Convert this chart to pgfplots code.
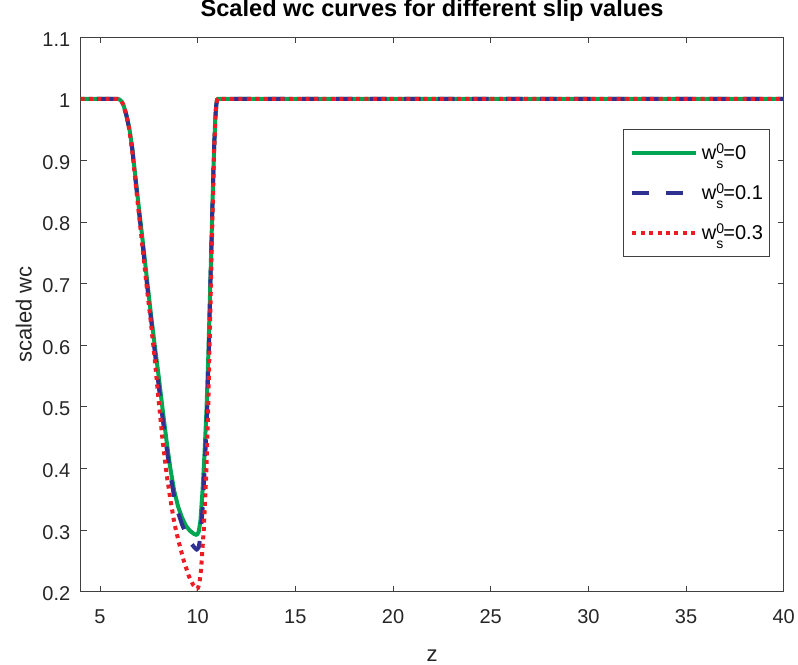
\documentclass[border=0pt]{standalone}
\usepackage{fontspec}
\setmainfont{Liberation Sans}
\usepackage{pgfplots}
\pgfplotsset{compat=1.18}
\definecolor{cgreen}{RGB}{0,166,81}
\definecolor{cblue}{RGB}{46,49,146}
\definecolor{cred}{RGB}{237,28,36}
\definecolor{axtext}{RGB}{38,38,38}
\newcommand\wsz[1]{w\rlap{\raisebox{3.3pt}{\fontsize{7}{7}\selectfont 0}}\raisebox{-4.5pt}{\fontsize{7}{7}\selectfont s}=#1}

\pgfplotstableread{
z v
4 1
5.9 1
6.0 0.999
6.1 0.996
6.2 0.99
6.35 0.974
6.5 0.952
6.65 0.92
6.8 0.877
7.0 0.82
7.2 0.765
7.4 0.708
7.6 0.652
7.8 0.600
8.0 0.550
8.2 0.497
8.4 0.446
8.6 0.400
8.8 0.363
9.0 0.338
9.2 0.320
9.4 0.307
9.6 0.299
9.8 0.294
9.95 0.292
10.05 0.297
10.14 0.315
10.25 0.365
10.35 0.425
10.45 0.495
10.55 0.59
10.65 0.705
10.75 0.822
10.83 0.912
10.9 0.968
10.95 0.99
11.0 1
40 1
}\green

\pgfplotstableread{
z v
4 1
5.9 1
6.0 0.999
6.1 0.996
6.2 0.99
6.35 0.973
6.5 0.951
6.65 0.918
6.8 0.873
7.0 0.815
7.2 0.758
7.4 0.70
7.6 0.645
7.8 0.59
8.0 0.535
8.2 0.482
8.4 0.435
8.6 0.39
8.8 0.353
9.0 0.328
9.2 0.309
9.4 0.294
9.6 0.281
9.8 0.273
9.95 0.268
10.05 0.272
10.14 0.289
10.27 0.343
10.39 0.424
10.48 0.49
10.56 0.58
10.65 0.70
10.75 0.82
10.83 0.912
10.9 0.968
10.95 0.99
11.0 1
40 1
}\blue

\pgfplotstableread{
z v
4 1
5.9 1
6.0 0.999
6.1 0.996
6.2 0.99
6.35 0.973
6.5 0.95
6.65 0.915
6.8 0.87
7.0 0.81
7.2 0.752
7.4 0.692
7.6 0.638
7.8 0.578
8.0 0.51
8.2 0.447
8.4 0.393
8.6 0.35
8.8 0.312
9.02 0.282
9.28 0.251
9.54 0.226
9.75 0.212
9.9 0.206
10.0 0.205
10.08 0.212
10.17 0.235
10.31 0.30
10.45 0.40
10.55 0.515
10.65 0.66
10.75 0.80
10.83 0.905
10.9 0.965
10.95 0.99
11.0 1
40 1
}\red

\begin{document}
\begin{tikzpicture}
\begin{axis}[
  scale only axis, width=351.6pt, height=277.2pt,
  xmin=4, xmax=40, ymin=0.2, ymax=1.1,
  xtick={5,10,15,20,25,30,35,40},
  ytick={0.2,0.3,0.4,0.5,0.6,0.7,0.8,0.9,1,1.1},
  tick align=inside, major tick length=3pt,
  axis line style={black!75, line width=0.5pt},
  every tick/.style={black!75, line width=0.5pt},
  /pgf/number format/assume math mode=true,
  ticklabel style={font=\fontsize{10}{12}\selectfont, text=axtext},
  yticklabel style={/pgf/number format/.cd, fixed, precision=1, /tikz/.cd, anchor=east, inner sep=0pt, xshift=-4.9pt, yshift=-1pt},
  xticklabel style={anchor=base, inner sep=0pt, yshift=-15.8pt},
  title={Scaled wc curves for different slip values},
  title style={font=\bfseries\fontsize{11.8}{14}\selectfont, at={(axis description cs:0.5,1)}, anchor=base, yshift=4.5pt, inner sep=0pt, text=black},
  xlabel={z},
  xlabel style={font=\fontsize{11}{13}\selectfont, at={(axis description cs:0.5,0)}, anchor=base, yshift=-34.8pt, inner sep=0pt, text=axtext},
  ylabel={scaled wc},
  ylabel style={font=\fontsize{11}{13}\selectfont, at={(axis description cs:-0.0694,0.5)}, anchor=base, inner sep=0pt, text=axtext},
  legend style={at={(axis description cs:0.9805,0.834)}, anchor=north east, draw=black!75, line width=0.5pt, fill=white,
    inner xsep=3.3pt, inner ysep=1.7pt, row sep=0pt, column sep=0pt,
    font=\fontsize{10}{12}\selectfont, text=black,
    cells={anchor=base west},
    nodes={inner xsep=0pt, inner ysep=0pt, text height=13.3pt, text depth=6.7pt}},
  legend image code/.code={\path[draw=none,fill=none] (0pt,0pt) -- (34.8pt,0pt); \draw[#1, dash phase=0pt] (0pt,3.3pt) -- (31.7pt,3.3pt);},
]
\addplot[cgreen, line width=2pt, line join=round] table[x=z,y=v] {\green};
\addlegendentry{\wsz{0}}
\addplot[cblue, line width=2pt, line join=round, dash pattern=on 8.4pt off 8.6pt, dash phase=8.8pt] table[x=z,y=v] {\blue};
\addlegendentry{\wsz{0.1}}
\addplot[cred, line width=2pt, line join=round, dash pattern=on 2pt off 2.2pt] table[x=z,y=v] {\red};
\addlegendentry{\wsz{0.3}}
\path (rel axis cs:0,0) coordinate (ll);
\path (rel axis cs:1,1) coordinate (ur);
\end{axis}
\pgfresetboundingbox
\path ([shift={(-40.25pt,-36.15pt)}]ll) rectangle ([shift={(7.15pt,18.65pt)}]ur);
\end{tikzpicture}
\end{document}
